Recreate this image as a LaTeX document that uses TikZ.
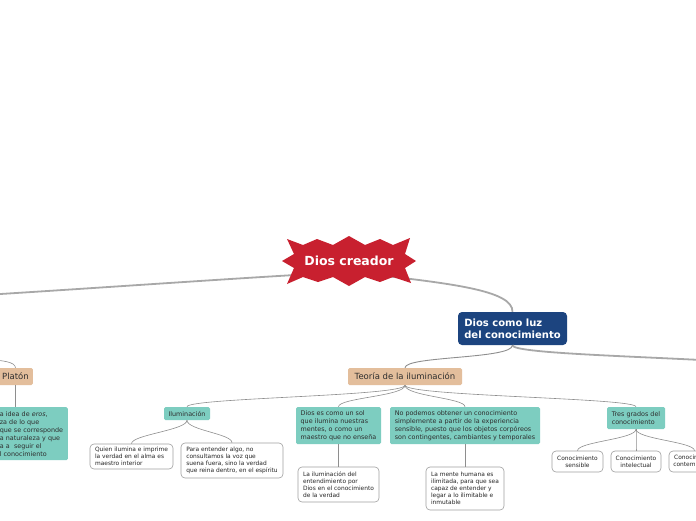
\documentclass[tikz,border=0pt]{standalone}
\usepackage{fontspec}
\setmainfont{DejaVu Sans}
\usetikzlibrary{calc}
\definecolor{starred}{HTML}{C8202F}
\definecolor{navy}{HTML}{1C447F}
\definecolor{teal2}{HTML}{7DCDC0}
\definecolor{tan2}{HTML}{E3BE9C}
\definecolor{linegray}{HTML}{A8A8A8}
\definecolor{subgray}{HTML}{8E8E8E}
\definecolor{txt}{HTML}{2E2E2E}
\tikzset{
  mainline/.style={draw=linegray, line width=1.8pt},
  midline/.style={draw=subgray, line width=0.9pt},
  subline/.style={draw=subgray, line width=0.6pt},
  tealbox/.style={fill=teal2, rounded corners=1.5pt, text=txt, font=\fontsize{6.4}{8}\selectfont, align=left, inner sep=0pt},
  tanbox/.style={fill=tan2, rounded corners=1.5pt, text=txt, font=\fontsize{8.5}{10}\selectfont, inner sep=0pt},
  leafbox/.style={draw=gray!75, fill=white, rounded corners=4pt, line width=0.6pt, text=black!85, font=\fontsize{5.9}{7}\selectfont, align=left, inner sep=0pt},
}
\begin{document}
\begin{tikzpicture}[x=1pt,y=-1pt]
\useasboundingbox (0,0) rectangle (696,520);
\fill[white] (0,0) rectangle (696,520);

% nodes
\node[minimum width=134pt, minimum height=50pt, inner sep=0pt] (creador) at (349,261) {};
\node[fill=navy, rounded corners=4pt, text=white, font=\bfseries\fontsize{10}{12}\selectfont, align=left, minimum width=109pt, minimum height=33pt, inner sep=0pt] (luz) at (512.5,328.5) {Dios como luz\\del conocimiento};
\node[tanbox, minimum width=114pt, minimum height=17pt] (teoria) at (405,376.5) {Teoría de la iluminación};
\node[tanbox, anchor=east, minimum height=17pt, inner xsep=4pt] (platon) at (33,376.5) {Platón};
\node[tealbox, anchor=north east, minimum height=53pt, text width=66pt, inner xsep=2pt] (eros) at (68,407) {a idea de \textit{eros},\\za de lo que\\que se corresponde\\a naturaleza y que\\a a\ \ seguir el\\l conocimiento};
\node[tealbox, minimum width=46pt, minimum height=13pt] (ilum) at (187,413.5) {Iluminación};
\node[leafbox, minimum width=83pt, minimum height=25pt] (quien) at (131.5,456.5) {Quien ilumina e imprime\\la verdad en el alma es\\maestro interior};
\node[leafbox, minimum width=102pt, minimum height=35pt] (para) at (232,460.5) {Para entender algo, no\\consultamos la voz que\\suena fuera, sino la verdad\\que reina dentro, en el espíritu};
\node[tealbox, minimum width=85pt, minimum height=37pt] (sol) at (338.5,425.5) {Dios es como un sol\\que ilumina nuestras\\mentes, o como un\\maestro que no enseña};
\node[leafbox, minimum width=81pt, minimum height=35pt] (lailum) at (338.5,484.5) {La iluminación del\\entendimiento por\\Dios en el conocimiento\\de la verdad};
\node[tealbox, minimum width=150pt, minimum height=37pt] (nopod) at (465,425.5) {No podemos obtener un conocimiento\\simplemente a partir de la experiencia\\sensible, puesto que los objetos corpóreos\\son contingentes, cambiantes y temporales};
\node[leafbox, minimum width=78pt, minimum height=43pt] (mente) at (465,488.5) {La mente humana es\\ilimitada, para que sea\\capaz de entender y\\legar a lo ilimitable e\\inmutable};
\node[tealbox, minimum width=58pt, minimum height=22pt] (tres) at (636,418) {Tres grados del\\conocimiento};
\node[leafbox, align=center, minimum width=51pt, minimum height=21pt] (sens) at (577.5,461.5) {Conocimiento\\sensible};
\node[leafbox, align=center, minimum width=50pt, minimum height=21pt] (intel) at (636,461.5) {Conocimiento\\intelectual};
\node[leafbox, align=center, minimum width=51pt, minimum height=21pt] (contem) at (694.5,461.5) {Conocimiento\\contemplativo};

% free ends
\coordinate (hub) at ($(creador.center)+(0,11)$);
\coordinate (leftend) at (-40,296.5);
\coordinate (rightend) at (720,361);
\coordinate (platin) at (-25,359);

% connectors
\draw[mainline] (hub) .. controls (250,277) and (100,288) .. (leftend);
\draw[mainline] (hub) .. controls (450,283) and (513,290) .. (luz.north);
\draw[mainline] (luz.south) .. controls +(0,8) and +(-90,-5) .. (rightend);
\draw[midline] (luz.south) .. controls +(0,14) and +(0,-12) .. (teoria.north);
\draw[subline] (platin) .. controls (5,360) and (15,362) .. (platon.north);
\draw[subline] (platon.south) -- (platon.south |- eros.north);
\foreach \c in {ilum,sol,nopod,tres}
  \draw[subline] (teoria.south) .. controls +(0,11) and +(0,-9) .. (\c.north);
\foreach \c in {quien,para}
  \draw[subline] (ilum.south) .. controls +(0,10) and +(0,-9) .. (\c.north);
\draw[subline] (sol.south) -- (lailum.north);
\draw[subline] (nopod.south) -- (mente.north);
\foreach \c in {sens,intel,contem}
  \draw[subline] (tres.south) .. controls +(0,10) and +(0,-9) .. (\c.north);

% star
\fill[starred, shift={(349,261)}] (-67,0) -- (-55,-7) -- (-62,-22) -- (-46,-16) -- (-32,-22) -- (-16,-16) -- (0,-25) -- (16,-16) -- (31,-22) -- (44,-16) -- (61,-23) -- (56,-7) -- (67,0) -- (56,7) -- (62,22) -- (44,16) -- (31,21) -- (16,16) -- (0,25) -- (-16,16) -- (-31,21) -- (-46,16) -- (-62,23) -- (-55,7) -- cycle;
\node[text=white, font=\bfseries\fontsize{12.5}{14}\selectfont, inner sep=0pt] (creadortext) at (creador.center) {Dios creador};
\end{tikzpicture}
\end{document}
